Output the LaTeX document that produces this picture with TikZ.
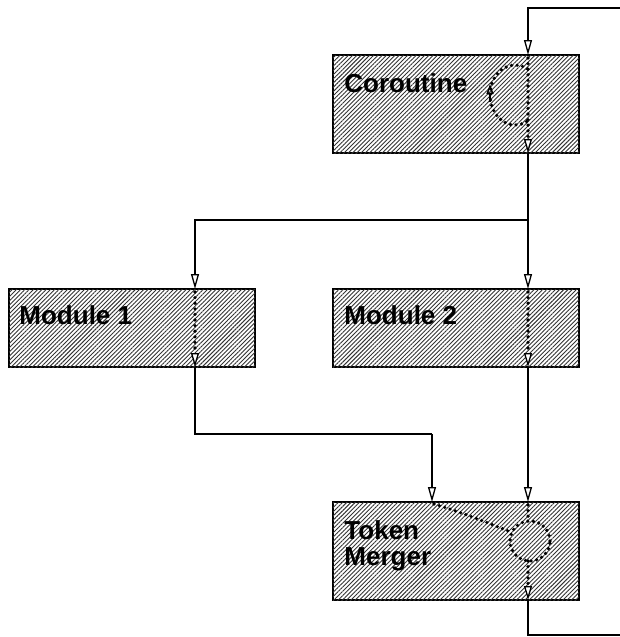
\documentclass[tikz,border=0pt]{standalone}
\usepackage{fontspec}
\setmainfont{Liberation Sans}
\usetikzlibrary{arrows.meta,patterns.meta,calc}
\tikzset{
  box/.style={draw, line width=1.5pt, inner sep=0pt, minimum width=246pt,
    postaction={pattern={Lines[angle=45,distance=3pt,line width=0.9pt]}, pattern color=black!80}},
  tall/.style={minimum height=98pt},
  short/.style={minimum height=78pt},
  lbl/.style={anchor=base west, inner sep=0pt, font=\fontsize{26}{26}\selectfont\bfseries, align=left},
  wire/.style={line width=1.4pt},
  dots/.style={line width=3.6pt, dash pattern=on 0pt off 5.6pt, line cap=round},
  tip/.style={-{Triangle[length=15pt,width=8pt,fill=white,line width=1.3pt]}},
  dtip/.style={-{Triangle[length=14pt,width=8pt,fill=white,line width=1.3pt,sep=0pt]}},
}
\begin{document}
\begin{tikzpicture}[x=1pt,y=-1pt]
\useasboundingbox (0,0) rectangle (620,637);
% boxes
\node[box,tall]  (co) at (456,104) {};
\node[box,short] (m1) at (132,328) {};
\node[box,short] (m2) at (456,328) {};
\node[box,tall]  (tm) at (456,551) {};
% labels
\node[lbl] (colbl) at ($(co.north west)+(12,38)$) {Coroutine};
\node[lbl] (m1lbl) at ($(m1.north west)+(11,36)$) {Module 1};
\node[lbl] (m2lbl) at ($(m2.north west)+(12,36)$) {Module 2};
\node[lbl] (tmlbl) at ($(tm.north west)+(12,64)$) {Token\\Merger};
% named coordinates
\coordinate (in)   at (620,8);
\coordinate (inc)  at (528,8);
\coordinate (coT)  at (528,55);
\coordinate (coB)  at (528,153);
\coordinate (j)    at (528,220);
\coordinate (jl)   at (195,220);
\coordinate (m1T)  at (195,289);
\coordinate (m1B)  at (195,367);
\coordinate (m2T)  at (528,289);
\coordinate (m2B)  at (528,367);
\coordinate (k)    at (195,434);
\coordinate (kr)   at (432,434);
\coordinate (tmL)  at (432,502);
\coordinate (tmT)  at (528,502);
\coordinate (tmB)  at (528,600);
\coordinate (outc) at (528,635);
\coordinate (out)  at (620,635);
\coordinate (loop) at (515,95);
\coordinate (mc)   at (530,541);
% solid connectors
\draw[wire,tip] (in) -- (inc) -- (coT);
\draw[wire] (coB) -- (j);
\draw[wire,tip] (j) -- (m2T);
\draw[wire,tip] (j) -- (jl) -- (m1T);
\draw[wire] (m1B) -- (k) -- (kr);
\draw[wire,tip] (kr) -- (tmL);
\draw[wire,tip] (m2B) -- (tmT);
\draw[wire] (tmB) -- (outc) -- (out);
% dotted internal flows
\draw[dots] ($(coT)+(0,3)$) -- ($(coB)+(0,-14)$);
\draw[dots] ($(loop)+(60:25pt and 30pt)$) arc[start angle=60,end angle=300,x radius=25pt,y radius=30pt];
\draw[line width=1.5pt,-{Triangle[open,length=10pt,width=7pt]}] (490,102) -- (490,84);
\draw[wire,dtip] ($(coB)+(0,-14.5)$) -- (coB);
\draw[dots] ($(m1T)+(0,3)$) -- ($(m1B)+(0,-14)$);
\draw[wire,dtip] ($(m1B)+(0,-14.5)$) -- (m1B);
\draw[dots] ($(m2T)+(0,3)$) -- ($(m2B)+(0,-14)$);
\draw[wire,dtip] ($(m2B)+(0,-14.5)$) -- (m2B);
\draw[dots] ($(tmL)+(2,2)$) .. controls (470,515) and (495,526) .. (511,532);
\draw[dots] ($(tmT)+(0,3)$) -- (528,521);
\draw[dots] (mc) circle[radius=20pt];
\draw[dots] (528,561) -- ($(tmB)+(0,-14)$);
\draw[wire,dtip] ($(tmB)+(0,-14.5)$) -- (tmB);
\end{tikzpicture}
\end{document}
